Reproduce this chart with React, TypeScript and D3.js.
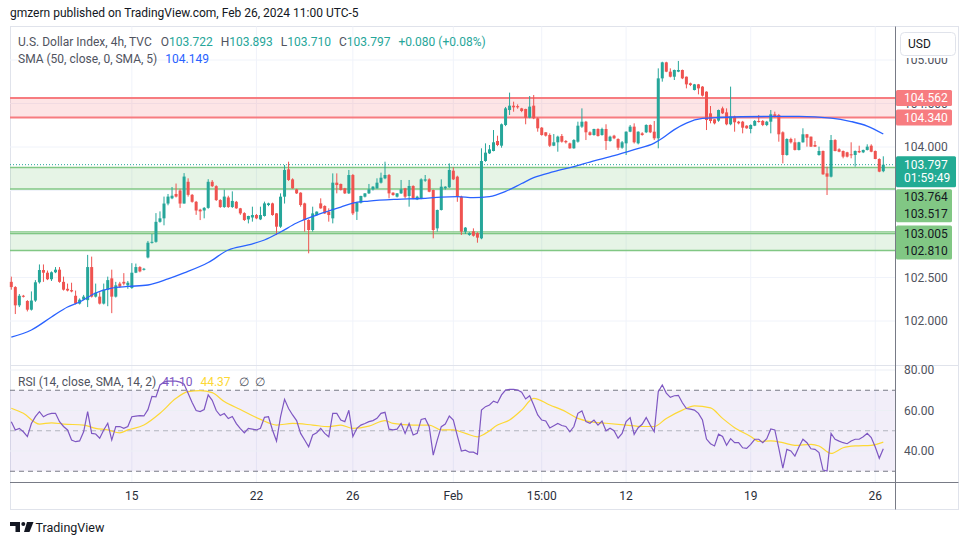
import React from "react";
import * as d3 from "d3";

type OHLC = [number, number, number, number]; // open, high, low, close

const candles: OHLC[] = [
  [102.45,102.51,102.36,102.39],[102.39,102.40,102.08,102.18],[102.18,102.31,102.16,102.29],[102.29,102.30,102.27,102.28],
  [102.23,102.24,102.11,102.13],[102.13,102.34,102.12,102.235],[102.235,102.47,102.22,102.445],[102.445,102.65,102.43,102.586],
  [102.586,102.65,102.45,102.555],[102.555,102.58,102.47,102.48],[102.48,102.57,102.46,102.56],[102.56,102.62,102.55,102.59],
  [102.59,102.62,102.44,102.45],[102.45,102.51,102.35,102.36],[102.37,102.43,102.34,102.35],[102.355,102.44,102.33,102.34],
  [102.29,102.35,102.19,102.20],[102.20,102.26,102.19,102.245],[102.245,102.30,102.24,102.28],[102.24,102.76,102.16,102.62],
  [102.62,102.74,102.27,102.28],[102.28,102.43,102.27,102.325],[102.28,102.33,102.19,102.20],[102.20,102.43,102.19,102.36],
  [102.36,102.51,102.17,102.47],[102.49,102.59,102.09,102.28],[102.28,102.45,102.27,102.41],[102.43,102.45,102.38,102.395],
  [102.45,102.55,102.41,102.43],[102.41,102.46,102.37,102.44],[102.38,102.665,102.37,102.555],[102.555,102.66,102.55,102.62],
  [102.62,102.63,102.56,102.57],[102.59,102.61,102.58,102.60],[102.73,102.92,102.72,102.90],[102.90,103.00,102.89,102.91],
  [102.91,103.24,102.90,103.14],[103.14,103.26,103.13,103.18],[103.18,103.43,103.10,103.35],[103.35,103.46,103.33,103.43],
  [103.41,103.54,103.40,103.44],[103.46,103.58,103.42,103.43],[103.50,103.52,103.30,103.35],[103.35,103.70,103.35,103.66],
  [103.60,103.64,103.43,103.45],[103.45,103.46,103.36,103.37],[103.37,103.38,103.22,103.27],[103.28,103.29,103.16,103.26],
  [103.27,103.31,103.18,103.30],[103.30,103.63,103.29,103.60],[103.60,103.62,103.54,103.55],[103.55,103.56,103.38,103.39],
  [103.39,103.40,103.30,103.31],[103.31,103.51,103.30,103.43],[103.42,103.44,103.30,103.31],[103.31,103.49,103.30,103.38],
  [103.37,103.38,103.29,103.295],[103.295,103.30,103.22,103.237],[103.24,103.25,103.15,103.161],[103.168,103.21,103.122,103.207],
  [103.19,103.314,103.142,103.218],[103.218,103.23,103.17,103.18],[103.168,103.314,103.16,103.218],[103.207,103.372,103.20,103.352],
  [103.333,103.36,103.32,103.352],[103.352,103.36,103.21,103.218],[103.237,103.24,102.988,103.084],[103.084,103.467,103.07,103.429],
  [103.429,103.793,103.35,103.736],[103.743,103.831,103.61,103.621],[103.628,103.64,103.52,103.525],[103.513,103.52,103.46,103.467],
  [103.475,103.48,103.314,103.333],[103.352,103.36,103.027,103.161],[103.161,103.17,102.778,103.046],[103.046,103.314,103.027,103.237],
  [103.218,103.26,103.21,103.257],[103.352,103.41,103.29,103.295],[103.322,103.33,103.23,103.237],[103.257,103.295,103.142,103.218],
  [103.18,103.697,103.122,103.59],[103.59,103.697,103.467,103.563],[103.575,103.58,103.50,103.506],[103.525,103.53,103.46,103.467],
  [103.467,103.736,103.46,103.678],[103.678,103.69,103.218,103.237],[103.257,103.37,103.161,103.36],[103.36,103.44,103.35,103.437],
  [103.429,103.47,103.42,103.467],[103.467,103.575,103.46,103.513],[103.513,103.55,103.50,103.544],[103.525,103.64,103.52,103.59],
  [103.59,103.705,103.58,103.647],[103.64,103.831,103.63,103.678],[103.678,103.69,103.41,103.467],[103.475,103.48,103.44,103.448],
  [103.429,103.47,103.42,103.467],[103.467,103.621,103.46,103.513],[103.525,103.53,103.41,103.429],[103.437,103.621,103.314,103.552],
  [103.552,103.56,103.40,103.41],[103.398,103.44,103.39,103.429],[103.41,103.64,103.40,103.628],[103.613,103.678,103.60,103.628],
  [103.628,103.64,103.48,103.486],[103.506,103.51,102.95,103.046],[103.065,103.28,103.027,103.276],[103.276,103.628,103.27,103.544],
  [103.525,103.55,103.51,103.544],[103.536,103.812,103.53,103.736],[103.728,103.766,103.62,103.628],[103.659,103.67,103.37,103.429],
  [103.429,103.44,102.989,103.027],[103.027,103.08,103.00,103.073],[102.99,103.02,102.98,103.01],[103.03,103.065,102.97,102.98],
  [103.01,103.02,102.90,102.958],[102.95,103.985,102.94,103.839],[103.839,104.042,103.83,103.935],[103.927,104.023,103.92,103.973],
  [103.954,104.195,103.95,104.054],[104.069,104.13,104.01,104.023],[104.015,104.27,103.992,104.261],[104.253,104.46,104.24,104.444],
  [104.425,104.625,104.368,104.475],[104.475,104.521,104.406,104.456],[104.47,104.49,104.44,104.456],[104.444,104.45,104.40,104.414],
  [104.437,104.44,104.261,104.337],[104.337,104.586,104.33,104.464],[104.475,104.598,104.32,104.33],[104.33,104.34,104.176,104.215],
  [104.222,104.23,104.13,104.138],[104.169,104.17,104.12,104.13],[104.138,104.157,104.00,104.015],[104.015,104.149,104.01,104.054],
  [104.054,104.13,103.946,104.119],[104.126,104.149,104.05,104.061],[104.069,104.08,104.04,104.054],[104.042,104.05,103.98,103.985],
  [103.985,104.09,103.98,104.08],[104.061,104.291,104.05,104.245],[104.234,104.444,104.22,104.291],[104.291,104.30,104.08,104.169],
  [104.169,104.18,104.13,104.138],[104.138,104.21,104.13,104.207],[104.207,104.215,104.12,104.126],[104.138,104.222,104.13,104.207],
  [104.207,104.261,103.966,104.069],[104.069,104.13,104.06,104.119],[104.13,104.14,104.09,104.10],[104.092,104.10,103.966,103.992],
  [103.992,104.069,103.98,104.054],[104.042,104.18,103.908,104.176],[104.176,104.253,104.17,104.234],[104.234,104.272,104.04,104.054],
  [104.042,104.18,104.03,104.176],[104.157,104.17,104.13,104.138],[104.169,104.261,104.16,104.253],[104.253,104.26,104.16,104.169],
  [104.176,104.299,104.08,104.10],[104.10,104.904,103.985,104.789],[104.789,104.98,104.751,104.973],[104.973,104.98,104.86,104.866],
  [104.866,104.904,104.80,104.808],[104.808,104.89,104.77,104.885],[104.866,104.989,104.86,104.885],[104.885,104.89,104.78,104.789],
  [104.808,104.81,104.674,104.72],[104.732,104.74,104.70,104.713],[104.655,104.725,104.65,104.72],[104.72,104.725,104.605,104.674],
  [104.694,104.70,104.58,104.59],[104.636,104.64,104.195,104.31],[104.387,104.471,104.272,104.299],[104.318,104.32,104.26,104.272],
  [104.303,104.43,104.29,104.425],[104.444,104.464,104.38,104.387],[104.398,104.444,104.25,104.261],[104.261,104.694,104.25,104.349],
  [104.349,104.36,104.176,104.284],[104.291,104.30,104.26,104.272],[104.291,104.30,104.157,104.222],[104.245,104.25,104.21,104.215],
  [104.207,104.26,104.157,104.253],[104.245,104.31,104.24,104.299],[104.299,104.368,104.28,104.291],[104.299,104.31,104.24,104.253],
  [104.253,104.30,104.24,104.291],[104.291,104.425,104.157,104.376],[104.376,104.406,104.34,104.349],[104.368,104.38,104.061,104.146],
  [104.169,104.18,103.812,103.908],[103.908,104.10,103.90,104.092],[104.092,104.107,104.04,104.054],[104.054,104.10,103.96,103.966],
  [103.966,104.06,103.96,104.054],[104.054,104.215,104.05,104.146],[104.146,104.15,104.004,104.107],[104.119,104.12,104.00,104.004],
  [104.023,104.069,104.00,104.004],[103.908,104.004,103.90,103.954],[103.954,103.96,103.68,103.686],[103.697,103.774,103.448,103.659],
  [103.659,104.138,103.65,104.08],[104.08,104.09,103.95,103.954],[103.973,103.985,103.94,103.946],[103.954,103.96,103.87,103.889],
  [103.939,103.945,103.88,103.889],[103.916,104.054,103.87,103.908],[103.908,103.96,103.774,103.954],[103.954,104.015,103.93,103.939],
  [103.939,103.97,103.93,103.966],[103.966,104.031,103.96,104.004],[104.015,104.031,103.94,103.946],[103.954,103.96,103.86,103.862],
  [103.862,103.87,103.71,103.717],[103.722,103.893,103.71,103.797],
];

// SMA(50): [bar index, value]
const smaPoints: [number, number][] = [
  [0,101.816],[5,101.897],[10,102.046],[14,102.161],[17,102.218],[21,102.322],[25,102.379],[29,102.397],[34,102.414],
  [39,102.483],[43,102.552],[49,102.672],[54,102.816],[59,102.874],[63,102.931],[67,103.023],[71,103.126],[76,103.218],
  [82,103.31],[85,103.356],[89,103.379],[96,103.399],[102,103.408],[107,103.425],[111,103.43],[115,103.417],[119,103.43],
  [123,103.49],[127,103.58],[130,103.647],[135,103.716],[140,103.775],[145,103.84],[150,103.9],[155,103.97],[160,104.045],
  [162,104.1],[165,104.2],[168,104.275],[172,104.328],[176,104.339],[189,104.351],[196,104.351],[204,104.333],[209,104.293],
  [213,104.241],[217,104.149],
];

const rsiValues: number[] = [
  54.5,50.4,51.2,49.5,47.1,53.6,57,59.4,56.9,58,
  58.6,58.6,54.5,52.1,50.4,45.4,44.6,45,49.5,59.4,
  48.7,48.4,46.3,50.4,53.7,45.4,52,52.1,51.2,52.1,
  56.9,57.2,57.5,57.3,60.4,67,66.7,72.6,74,74.5,
  74.5,74.5,74,73,68.5,64,60,59.5,60.5,67.7,
  65,60,57.5,58.5,56,57,53.5,51,49,51.2,
  50.8,50.4,51.2,56.6,56.9,50.4,44.9,56.9,65.5,61,
  57.8,55,48.7,45.4,42.1,47.9,49,51.2,48.7,47,
  58.6,58.6,55.3,54.5,60.1,47.1,51.2,52.8,53.6,54.5,
  55,56.1,58.6,59.1,50.8,50.4,50.8,53.6,48.7,53.6,
  47.9,48.7,55.6,56.1,52,38,45.4,52,53.3,57.3,
  55.3,47.5,40,40.4,39.4,39.4,38.4,60.2,61.9,62.7,
  64.6,63.8,67.7,70.1,70.4,70.4,70.1,69,65.7,67.3,
  62.7,57.8,55.3,54.8,51.4,52.5,53.6,52.6,52.1,49.5,
  52.1,58.6,59.8,54.5,53.7,55.3,52.8,54.8,50,51.2,
  50,46.3,48.7,54.5,56.5,48.2,51.5,53.2,56.5,52.8,
  49.5,69.3,72.6,68.6,66.5,67.3,67.5,63.8,61,60.7,
  60.2,58.6,55.3,45.9,43.6,42.5,48.3,47.2,42.8,46.1,
  44.1,44.1,41.6,41.3,43.3,45.8,45.8,44.1,46.1,50.9,
  50.4,41.3,31.5,40.8,40,37.5,42,45.8,44.1,41.1,
  40.8,39.2,30.6,30.1,48.7,45.8,44.9,44.1,43.6,44.9,
  45.8,45.8,47,48.7,46.6,42,36.4,41.1,
];

const rsiSmaPoints: [number, number][] = [
  [0,61.1],[3,58.6],[7,53.3],[10,53.9],[13,53.3],[18,52.8],[21,51.2],[24,50.4],[27,49],[29,50.4],[33,52.8],[37,58.6],
  [41,66],[44,69.3],[47,69.8],[50,68.8],[53,64.4],[57,60.5],[62,55.6],[66,52.8],[70,53.6],[75,52.8],[79,52],[82,52.8],
  [85,51.2],[89,52.3],[93,55],[95,53.6],[100,52.8],[104,52.8],[107,50.4],[110,50.4],[113,48.7],[116,47],[118,48.7],
  [121,52.8],[124,55.3],[127,60.2],[130,66],[134,62.7],[138,59.4],[141,56.1],[144,54.5],[148,53.7],[153,52.8],[157,52.1],
  [160,52.1],[163,56.1],[167,60.2],[170,62.3],[174,61.3],[177,56.1],[180,51.5],[184,47.2],[186,44.7],[189,45],[192,44.1],
  [195,42.8],[199,43.3],[201,42.5],[204,38.8],[207,41.6],[210,42.5],[214,42.8],[217,44.37],
];

const xTicks: [number, string][] = [
  [30, "15"], [61, "22"], [85, "26"], [110, "Feb"], [132, "15:00"], [153, "12"], [184, "19"], [215, "26"],
];
const priceGrid = [102, 102.5, 103, 103.5, 104, 104.5, 105];
const priceAxisLabels = [102, 102.5, 104, 104.5, 105];
const rsiGrid = [40, 60, 80];
const rsiAxisLabels = [40, 60, 80];

const resistanceZone = [104.562, 104.34];
const supportZoneHigh = [103.764, 103.517];
const supportZoneLow = [103.005, 102.81];
const supportExtraLine = 103.025;

const FONT = "Roboto, 'Liberation Sans', Arial, sans-serif";
const UP = "#26a69a";
const DOWN = "#ef5350";

export default function App() {
  const L = 10, R = 895, TOP = 26.5, PB = 365, RB = 482, BOTTOM = 509.5, FR = 958.5;
  const x = d3.scaleLinear().domain([0, candles.length - 1]).range([11.3, 883.3]);
  const y = d3.scaleLinear().domain([102, 104]).range([321, 147]);
  const yR = d3.scaleLinear().domain([40, 80]).range([451, 370]);
  const f3 = d3.format(".3f");
  const f2 = d3.format(".2f");

  const smaLine = d3.line<[number, number]>().x(d => x(d[0])).y(d => y(d[1])).curve(d3.curveMonotoneX);
  const rsiLine = d3.line<number>().x((_, i) => x(i)).y(d => yR(d));
  const rsiSmaLine = d3.line<[number, number]>().x(d => x(d[0])).y(d => yR(d[1])).curve(d3.curveMonotoneX);

  const last = candles[candles.length - 1];
  const prev = candles[candles.length - 2];
  const chg = last[3] - prev[3];
  const pct = (chg / prev[3]) * 100;
  const smaLast = smaPoints[smaPoints.length - 1][1];
  const rsiLast = rsiValues[rsiValues.length - 1];
  const rsiSmaLast = rsiSmaPoints[rsiSmaPoints.length - 1][1];

  const labelX = 904;
  const tealTop = y(last[3]) - 8.5;
  const tealH = 31;
  const g1Top = tealTop + tealH + 2;
  const g2Top = y(supportZoneLow[0]) - 8;
  const g2Bottom = y(supportZoneLow[1]) + 9;

  return (
    <svg width={970} height={545} style={{ position: "absolute", left: 0, top: 0, background: "#fff" }} fontFamily={FONT}>
      <defs>
        <clipPath id="axisClip">
          <rect x={R + 1} y={58} width={FR - R - 1} height={RB - 58} />
        </clipPath>
      </defs>
      <rect x={0} y={0} width={970} height={545} fill="#fff" />
      {/* header */}
      <text x={10} y={16.5} fontSize={12} fill="#131722">gmzern published on TradingView.com, Feb 26, 2024 11:00 UTC-5</text>

      {/* frame */}
      <rect x={L + 0.5} y={TOP} width={FR - L - 0.5} height={BOTTOM - TOP} fill="#fff" stroke="#e0e3eb" />

      {/* vertical grid */}
      {xTicks.map(([i]) => (
        <line key={"vg" + i} x1={x(i)} x2={x(i)} y1={TOP} y2={RB} stroke="#f0f3fa" strokeWidth={1} />
      ))}
      {/* horizontal grid price */}
      {priceGrid.map(p => (
        <line key={"hg" + p} x1={L} x2={R} y1={y(p)} y2={y(p)} stroke="#f0f3fa" strokeWidth={1} />
      ))}

      {/* zones */}
      <rect x={L} y={y(resistanceZone[0])} width={R - L} height={y(resistanceZone[1]) - y(resistanceZone[0])} fill="rgba(247,124,128,0.2)" />
      <line x1={L} x2={R} y1={y(resistanceZone[0])} y2={y(resistanceZone[0])} stroke="#f77c80" strokeWidth={2} />
      <line x1={L} x2={R} y1={y(resistanceZone[1])} y2={y(resistanceZone[1])} stroke="#f77c80" strokeWidth={2} />
      {[supportZoneHigh, supportZoneLow].map((z, k) => (
        <g key={"sz" + k}>
          <rect x={L} y={y(z[0])} width={R - L} height={y(z[1]) - y(z[0])} fill="rgba(129,199,132,0.2)" />
          <line x1={L} x2={R} y1={y(z[0])} y2={y(z[0])} stroke="#81c784" strokeWidth={1.5} />
          <line x1={L} x2={R} y1={y(z[1])} y2={y(z[1])} stroke="#81c784" strokeWidth={1.5} />
        </g>
      ))}
      <line x1={L} x2={R} y1={y(supportExtraLine)} y2={y(supportExtraLine)} stroke="#81c784" strokeWidth={1.2} />

      {/* current price dotted line */}
      <line x1={L} x2={R} y1={y(last[3])} y2={y(last[3])} stroke={UP} strokeWidth={1} strokeDasharray="1 2" />

      {/* candles */}
      {candles.map((c, i) => {
        const [o, h, l, cl] = c;
        const col = cl >= o ? UP : DOWN;
        const top = y(Math.max(o, cl));
        const bh = Math.max(1, y(Math.min(o, cl)) - top);
        return (
          <g key={"c" + i}>
            <line x1={x(i)} x2={x(i)} y1={y(h)} y2={y(l)} stroke={col} strokeWidth={1} />
            <rect x={x(i) - 1.5} y={top} width={3} height={bh} fill={col} />
          </g>
        );
      })}

      {/* SMA */}
      <path d={smaLine(smaPoints) || ""} fill="none" stroke="#2962ff" strokeWidth={1.3} />

      {/* legend */}
      <text x={18} y={46} fontSize={12} fill="#50535e">
        U.S. Dollar Index, 4h, TVC
        <tspan dx={9}>O</tspan><tspan fill={UP}>{f3(last[0])}</tspan>
        <tspan dx={8}>H</tspan><tspan fill={UP}>{f3(last[1])}</tspan>
        <tspan dx={8}>L</tspan><tspan fill={UP}>{f3(last[2])}</tspan>
        <tspan dx={8}>C</tspan><tspan fill={UP}>{f3(last[3])}</tspan>
        <tspan dx={8} fill={UP}>{d3.format("+.3f")(chg)} ({d3.format("+.2f")(pct)}%)</tspan>
      </text>
      <text x={18} y={63} fontSize={12} fill="#50535e">
        SMA (50, close, 0, SMA, 5)<tspan dx={8} fill="#2962ff">{f3(smaLast)}</tspan>
      </text>

      {/* pane separator */}
      <line x1={L} x2={FR} y1={PB + 0.5} y2={PB + 0.5} stroke="#e0e3eb" strokeWidth={1} />

      {/* RSI pane */}
      <rect x={L} y={yR(70)} width={R - L} height={yR(30) - yR(70)} fill="rgba(126,87,194,0.1)" />
      {rsiGrid.map(v => (
        <line key={"rg" + v} x1={L} x2={R} y1={yR(v)} y2={yR(v)} stroke="#eceff5" strokeWidth={1} />
      ))}
      <line x1={L} x2={R} y1={yR(70)} y2={yR(70)} stroke="#787b86" strokeDasharray="5 4" />
      <line x1={L} x2={R} y1={yR(50)} y2={yR(50)} stroke="#b2b5be" strokeDasharray="5 4" />
      <line x1={L} x2={R} y1={yR(30)} y2={yR(30)} stroke="#787b86" strokeDasharray="5 4" />
      <path d={rsiSmaLine(rsiSmaPoints) || ""} fill="none" stroke="#fdd835" strokeWidth={1.2} />
      <path d={rsiLine(rsiValues) || ""} fill="none" stroke="#7e57c2" strokeWidth={1.2} />
      <text x={18} y={385.5} fontSize={12} fill="#50535e">
        RSI (14, close, SMA, 14, 2)
        <tspan dx={6} fill="#7e57c2">{f2(rsiLast)}</tspan>
        <tspan dx={8} fill="#fdd835">{f2(rsiSmaLast)}</tspan>
        <tspan dx={8}>∅</tspan>
        <tspan dx={6}>∅</tspan>
      </text>

      {/* axes lines */}
      <line x1={L} x2={FR} y1={RB + 0.5} y2={RB + 0.5} stroke="#787b86" strokeWidth={1} />
      <line x1={R + 0.5} x2={R + 0.5} y1={TOP} y2={BOTTOM} stroke="#787b86" strokeWidth={1} />

      {/* x labels */}
      {xTicks.map(([i, t]) => (
        <text key={"xl" + i} x={x(i)} y={500} fontSize={12} fill="#2a2e39" textAnchor="middle">{t}</text>
      ))}

      {/* right axis labels */}
      <g clipPath="url(#axisClip)">
        {priceAxisLabels.map(p => (
          <text key={"pl" + p} x={labelX} y={y(p)} dy="0.35em" fontSize={12} fill="#50535e">{f3(p)}</text>
        ))}
      </g>
      {rsiAxisLabels.map(v => (
        <text key={"rl" + v} x={labelX} y={yR(v)} dy="0.35em" fontSize={12} fill="#50535e">{f2(v)}</text>
      ))}

      {/* USD box */}
      <rect x={900.5} y={32.5} width={55} height={23} rx={4} fill="#fff" stroke="#e0e3eb" />
      <text x={908} y={44} dy="0.35em" fontSize={12} fill="#131722">USD</text>

      {/* resistance labels */}
      {resistanceZone.map(p => (
        <g key={"rz" + p}>
          <rect x={896} y={y(p) - 8} width={56} height={16} rx={1.5} fill="#f77c80" />
          <text x={labelX} y={y(p)} dy="0.35em" fontSize={12} fill="#fff">{f3(p)}</text>
        </g>
      ))}

      {/* current price label */}
      <rect x={896} y={tealTop} width={60} height={tealH} rx={1.5} fill="#22ab94" />
      <text x={labelX} y={tealTop + 8.5} dy="0.35em" fontSize={12} fill="#fff">{f3(last[3])}</text>
      <text x={labelX} y={tealTop + 22} dy="0.35em" fontSize={12} fill="#fff">01:59:49</text>

      {/* support labels */}
      <rect x={896} y={g1Top} width={56} height={33} rx={1.5} fill="#81c784" />
      <text x={labelX} y={g1Top + 7.5} dy="0.35em" fontSize={12} fill="#131722">{f3(supportZoneHigh[0])}</text>
      <text x={labelX} y={g1Top + 24.5} dy="0.35em" fontSize={12} fill="#131722">{f3(supportZoneHigh[1])}</text>
      <rect x={896} y={g2Top} width={56} height={g2Bottom - g2Top} rx={1.5} fill="#81c784" />
      <text x={labelX} y={y(supportZoneLow[0])} dy="0.35em" fontSize={12} fill="#131722">{f3(supportZoneLow[0])}</text>
      <text x={labelX} y={y(supportZoneLow[1])} dy="0.35em" fontSize={12} fill="#131722">{f3(supportZoneLow[1])}</text>

      {/* footer logo */}
      <g fill="#131722">
        <path d="M10 522 H20 V532 H15.5 V526 H10 Z" />
        <circle cx={23.3} cy={524} r={2} />
        <path d="M27 522 H33.5 L29.5 532 H24 Z" />
      </g>
      <text x={35.5} y={531.5} fontSize={12.5} fill="#131722">TradingView</text>
    </svg>
  );
}
